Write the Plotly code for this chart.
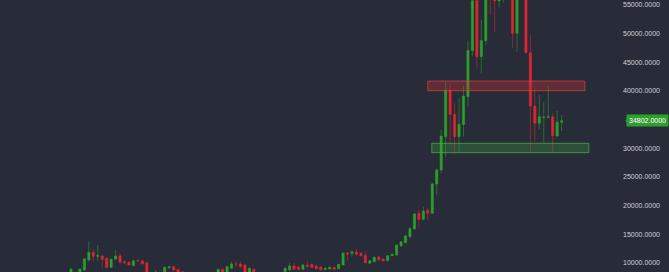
import pandas as pd
import plotly.graph_objects as go

# ---- data (weekly candles) ----
opens = [8200, 8400, 7700, 8780, 10520, 11860, 11150, 11220, 10820, 9250,
         10700, 11270, 10230, 10120, 9530, 10470, 10350, 10050, 8200, 8100,
         8350, 8000, 9180, 9350, 8900, 8480, 8100, 7600, 7300, 7200,
         7400, 7200, 7800, 8100, 8900, 8400, 9080, 9850, 9830, 9650,
         8300, 8900, 8000, 7900, 5400, 6200, 6800, 7200, 8500, 8780,
         9480, 9250, 8900, 9650, 9770, 9480, 9300, 8850, 8950, 9250,
         9010, 9650, 11740, 11690, 11920, 11690, 11340, 9950, 10230, 11050,
         10700, 10400, 11270, 11400, 13010, 13540, 14580, 15920, 18660, 17610,
         19180, 18660, 23760, 26200, 32000, 40140, 35900, 32000, 34150, 38970,
         47000, 55700, 45940, 48730, 59000, 57400, 55650, 58000, 60000, 60200,
         50020, 57000, 58200, 46640, 37350, 34330, 35350, 35380, 35490, 32120,
         34500]
highs = [9200, 8420, 9100, 10900, 13710, 12400, 13140, 11400, 11000, 10800,
         12260, 11700, 10500, 10300, 10600, 10700, 10500, 10200, 8400, 8780,
         8420, 9400, 9500, 9450, 9000, 8550, 8300, 7900, 7600, 7700,
         7500, 8000, 8400, 9000, 9100, 9500, 10230, 10350, 10300, 9800,
         9200, 9000, 8200, 8000, 6900, 7000, 7500, 8400, 9200, 10050,
         10050, 9500, 9800, 10400, 9900, 9700, 9400, 9250, 9350, 9300,
         9850, 11800, 11970, 12100, 12390, 11900, 12040, 10500, 11100, 11200,
         10800, 11400, 11650, 13250, 13800, 14900, 16300, 18800, 19350, 19810,
         19530, 23990, 26500, 33170, 41700, 41300, 37820, 38690, 40840, 48730,
         58300, 57500, 52330, 61700, 60600, 58400, 59500, 61300, 64800, 60500,
         57900, 59500, 59600, 49700, 40600, 39270, 38100, 41010, 36080, 36480,
         35780]
lows = [8000, 7500, 7500, 8600, 10300, 10200, 10300, 9200, 9100, 9100,
        10500, 9900, 9800, 9500, 9400, 10100, 9700, 8000, 7800, 7900,
        7600, 7900, 9000, 8600, 8100, 7900, 7500, 7200, 6500, 7000,
        7000, 7100, 7600, 8000, 8200, 8300, 9000, 9350, 9200, 8100,
        8200, 8000, 7600, 3900, 5200, 5900, 6500, 7000, 8300, 8660,
        8700, 8750, 8800, 9080, 9100, 8950, 8700, 8750, 8900, 8850,
        8950, 9600, 10400, 11100, 11220, 11100, 9950, 9900, 10150, 10400,
        10250, 10300, 11200, 11300, 12800, 13400, 14300, 15800, 16220, 17400,
        17490, 18500, 21850, 25680, 28520, 30560, 28990, 29110, 32000, 37230,
        46000, 43900, 43050, 48000, 53200, 50200, 54550, 55350, 56500, 47400,
        46810, 56100, 46530, 29390, 31130, 33290, 30850, 35210, 29220, 31900,
        33000]
closes = [8900, 7700, 8900, 10700, 11860, 11150, 11300, 10640, 9250, 10640,
          11220, 10120, 10050, 9650, 10400, 10400, 9880, 8200, 8100, 8400,
          8000, 9250, 9350, 8780, 8300, 8100, 7600, 7300, 7200, 7400,
          7200, 7800, 8100, 8900, 8400, 9350, 9830, 9800, 9350, 8400,
          9080, 8400, 7900, 5400, 6200, 6800, 7200, 8300, 9080, 9480,
          8920, 8900, 9650, 9420, 9250, 9010, 8800, 9080, 9250, 8900,
          9770, 11740, 11570, 11970, 11520, 11270, 10050, 10400, 10990, 10570,
          10350, 11270, 11500, 13140, 13710, 14700, 15970, 18540, 17610, 19060,
          18660, 23760, 26200, 32130, 40140, 35900, 32000, 34200, 39090, 47000,
          55700, 45940, 48730, 59000, 57400, 55650, 58000, 60000, 60200, 50020,
          57000, 58200, 46640, 37350, 34330, 35490, 35450, 35500, 32180, 34510,
          34802]
dates = pd.date_range("2019-05-13", periods=len(opens), freq="W-MON")

last_price = 34802
tick_values = [10000, 15000, 20000, 25000, 30000, 40000, 45000, 50000, 55000]

# zones: (start week offset, end week offset, low, high)
resistance_zone = (80.0, 115.2, 40020, 41700)
support_zone = (80.9, 116.1, 29220, 30850)

# ---- styling ----
BG = "#282c38"
GREEN = "#2e9f2e"
RED = "#e0262f"
week = pd.Timedelta(days=7)

fig = go.Figure(go.Candlestick(
    x=dates, open=opens, high=highs, low=lows, close=closes,
    increasing=dict(line=dict(color="rgba(46,160,46,0.55)", width=1), fillcolor=GREEN),
    decreasing=dict(line=dict(color="rgba(224,38,47,0.55)", width=1), fillcolor=RED),
    whiskerwidth=0, showlegend=False, hoverinfo="skip",
))

def zone(z, fill, line):
    return dict(type="rect", xref="x", yref="y",
                x0=dates[0] + z[0] * week, x1=dates[0] + z[1] * week,
                y0=z[2], y1=z[3], fillcolor=fill,
                line=dict(color=line, width=1), layer="above")

fig.update_layout(
    width=669, height=272,
    margin=dict(l=0, r=0, t=0, b=0),
    paper_bgcolor=BG, plot_bgcolor=BG,
    xaxis=dict(
        range=[dates[0] - 15.92 * week, dates[0] + 134.08 * week],
        visible=False, rangeslider=dict(visible=False), showgrid=False,
    ),
    yaxis=dict(
        range=[8430, 55820], side="right", showgrid=False, zeroline=False,
        tickvals=tick_values, tickformat=".4f",
        ticklabelposition="inside", ticks="", ticklabelstandoff=6,
        tickfont=dict(family="Liberation Sans", size=7, color="#cfd2da"),
        showline=False,
    ),
    shapes=[
        zone(resistance_zone, "rgba(200,50,55,0.35)", "rgba(220,60,65,0.75)"),
        zone(support_zone, "rgba(60,160,60,0.30)", "rgba(70,175,70,0.75)"),
        dict(type="path", xref="paper", yref="y",
             path=f"M 0.9345 {last_price} L 0.9420 {last_price + 1000} L 0.9420 {last_price - 1000} Z",
             fillcolor=GREEN, line=dict(width=0)),
    ],
    annotations=[dict(
        xref="paper", yref="y", x=1.0, y=last_price, xanchor="right", yanchor="middle",
        text=f"{last_price:.4f}", showarrow=False, bgcolor=GREEN, borderpad=2,
        font=dict(family="Liberation Sans", size=7, color="white"),
    )],
)

fig.write_html("out.html")
